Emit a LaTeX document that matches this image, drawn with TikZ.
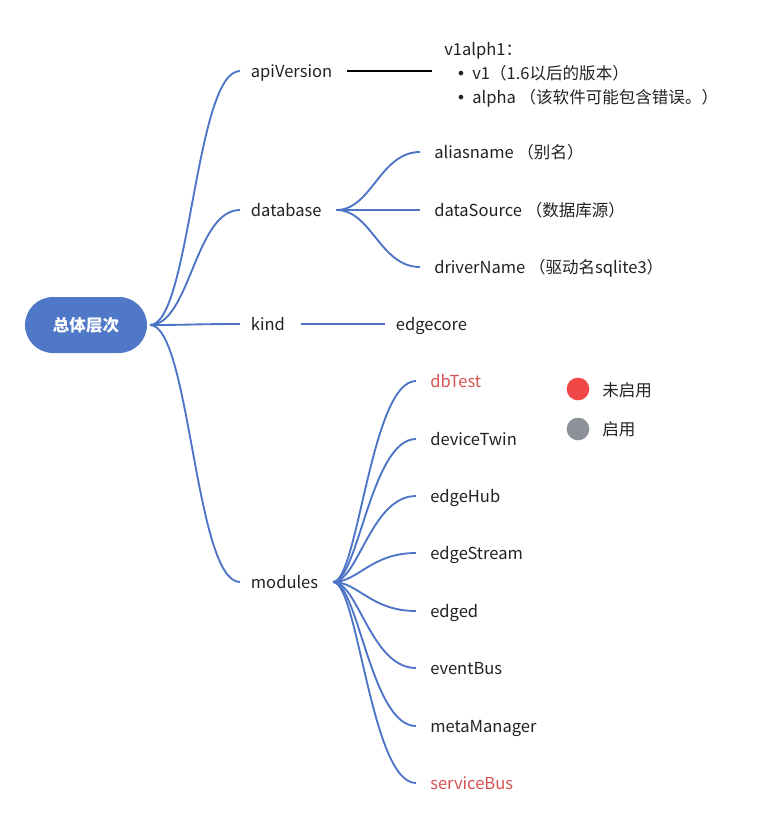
\documentclass[tikz,border=0pt]{standalone}
\usepackage{fontspec}
\setmainfont{Noto Sans CJK SC}
\newfontfamily\bulletfont{DejaVu Sans}
\usepackage{xcolor}
\definecolor{branchblue}{HTML}{4D74C7}
\definecolor{rootblue}{HTML}{5078C8}
\definecolor{offred}{HTML}{D65151}
\definecolor{dotred}{HTML}{F04646}
\definecolor{dotgray}{HTML}{8B9099}
\definecolor{txt}{HTML}{222222}
\newcommand{\vbullet}{\hspace*{9pt}{\bulletfont\fontsize{12}{12}\selectfont •}\hspace{5pt}}
\tikzset{
  branch/.style={draw=branchblue, line width=1.4pt},
  leaf/.style={anchor=west, inner xsep=8pt, inner ysep=2pt, text height=10pt, text depth=0pt,
    text=txt, font=\fontsize{12.4}{14}\selectfont},
  subleaf/.style={leaf, inner xsep=10.5pt},
  dot/.style={circle, minimum size=17pt, inner sep=0pt}
}

\begin{document}
\begin{tikzpicture}[x=0.75pt, y=-0.75pt]
\useasboundingbox (0,0) rectangle (767,817);
% root
\node[fill=rootblue, rounded corners=21pt, minimum width=91.5pt, minimum height=42pt,
      text=white, font=\fontsize{12.4}{14}\selectfont\bfseries] (root) at (86,325) {总体层次};
\coordinate (rootout) at (150,325);
% first level
\node[leaf] (api) at (240,71) {apiVersion};
\node[leaf] (db) at (240,210) {database};
\node[leaf] (kind) at (240,324) {kind};
\node[leaf] (mod) at (240,582) {modules};
\foreach \n in {api,db,kind,mod}
  \draw[branch] (rootout) .. controls +(40,0) and +(-45,0) .. (\n.west);
% apiVersion -> version text
\node[anchor=west, align=left, text=txt, font=\fontsize{12.4}{18}\selectfont, inner xsep=9pt] (ver) at (432,75)
  {v1alph1：\\ \vbullet v1（1.6以后的版本）\\ \vbullet alpha （该软件可能包含错误。）};
\draw[line width=1.9pt, black] ([xshift=3pt]api.east) -- (api.east -| ver.west);
% database children
\node[subleaf] (alias) at (420,152) {aliasname （别名）};
\node[subleaf] (dsrc) at (420,210) {dataSource （数据库源）};
\node[subleaf] (drv) at (420,267) {driverName （驱动名sqlite3）};
\foreach \n in {alias,dsrc,drv}
  \draw[branch] ([xshift=3pt]db.east) .. controls +(35,0) and +(-40,0) .. (\n.west);
% kind child
\node[leaf] (core) at (385,324) {edgecore};
\draw[branch] ([xshift=4pt]kind.east) -- (core.west);
% modules children
\foreach \n/\yy/\clr in {dbTest/381/offred, deviceTwin/439/txt, edgeHub/496/txt, edgeStream/553/txt,
    edged/611/txt, eventBus/668/txt, metaManager/726/txt, serviceBus/783/offred}{
  \node[subleaf, text=\clr] (\n) at (416,\yy) {\n};
  \draw[branch] ([xshift=3pt]mod.east) .. controls +(25,0) and +(-45,0) .. (\n.west);
}
% legend
\node[dot, fill=dotred] (off) at (578,389) {};
\node[leaf, inner xsep=0pt] (offtxt) at (602,390) {未启用};
\node[dot, fill=dotgray] (on) at (578,429) {};
\node[leaf, inner xsep=0pt] (ontxt) at (602,429) {启用};
\end{tikzpicture}
\end{document}
